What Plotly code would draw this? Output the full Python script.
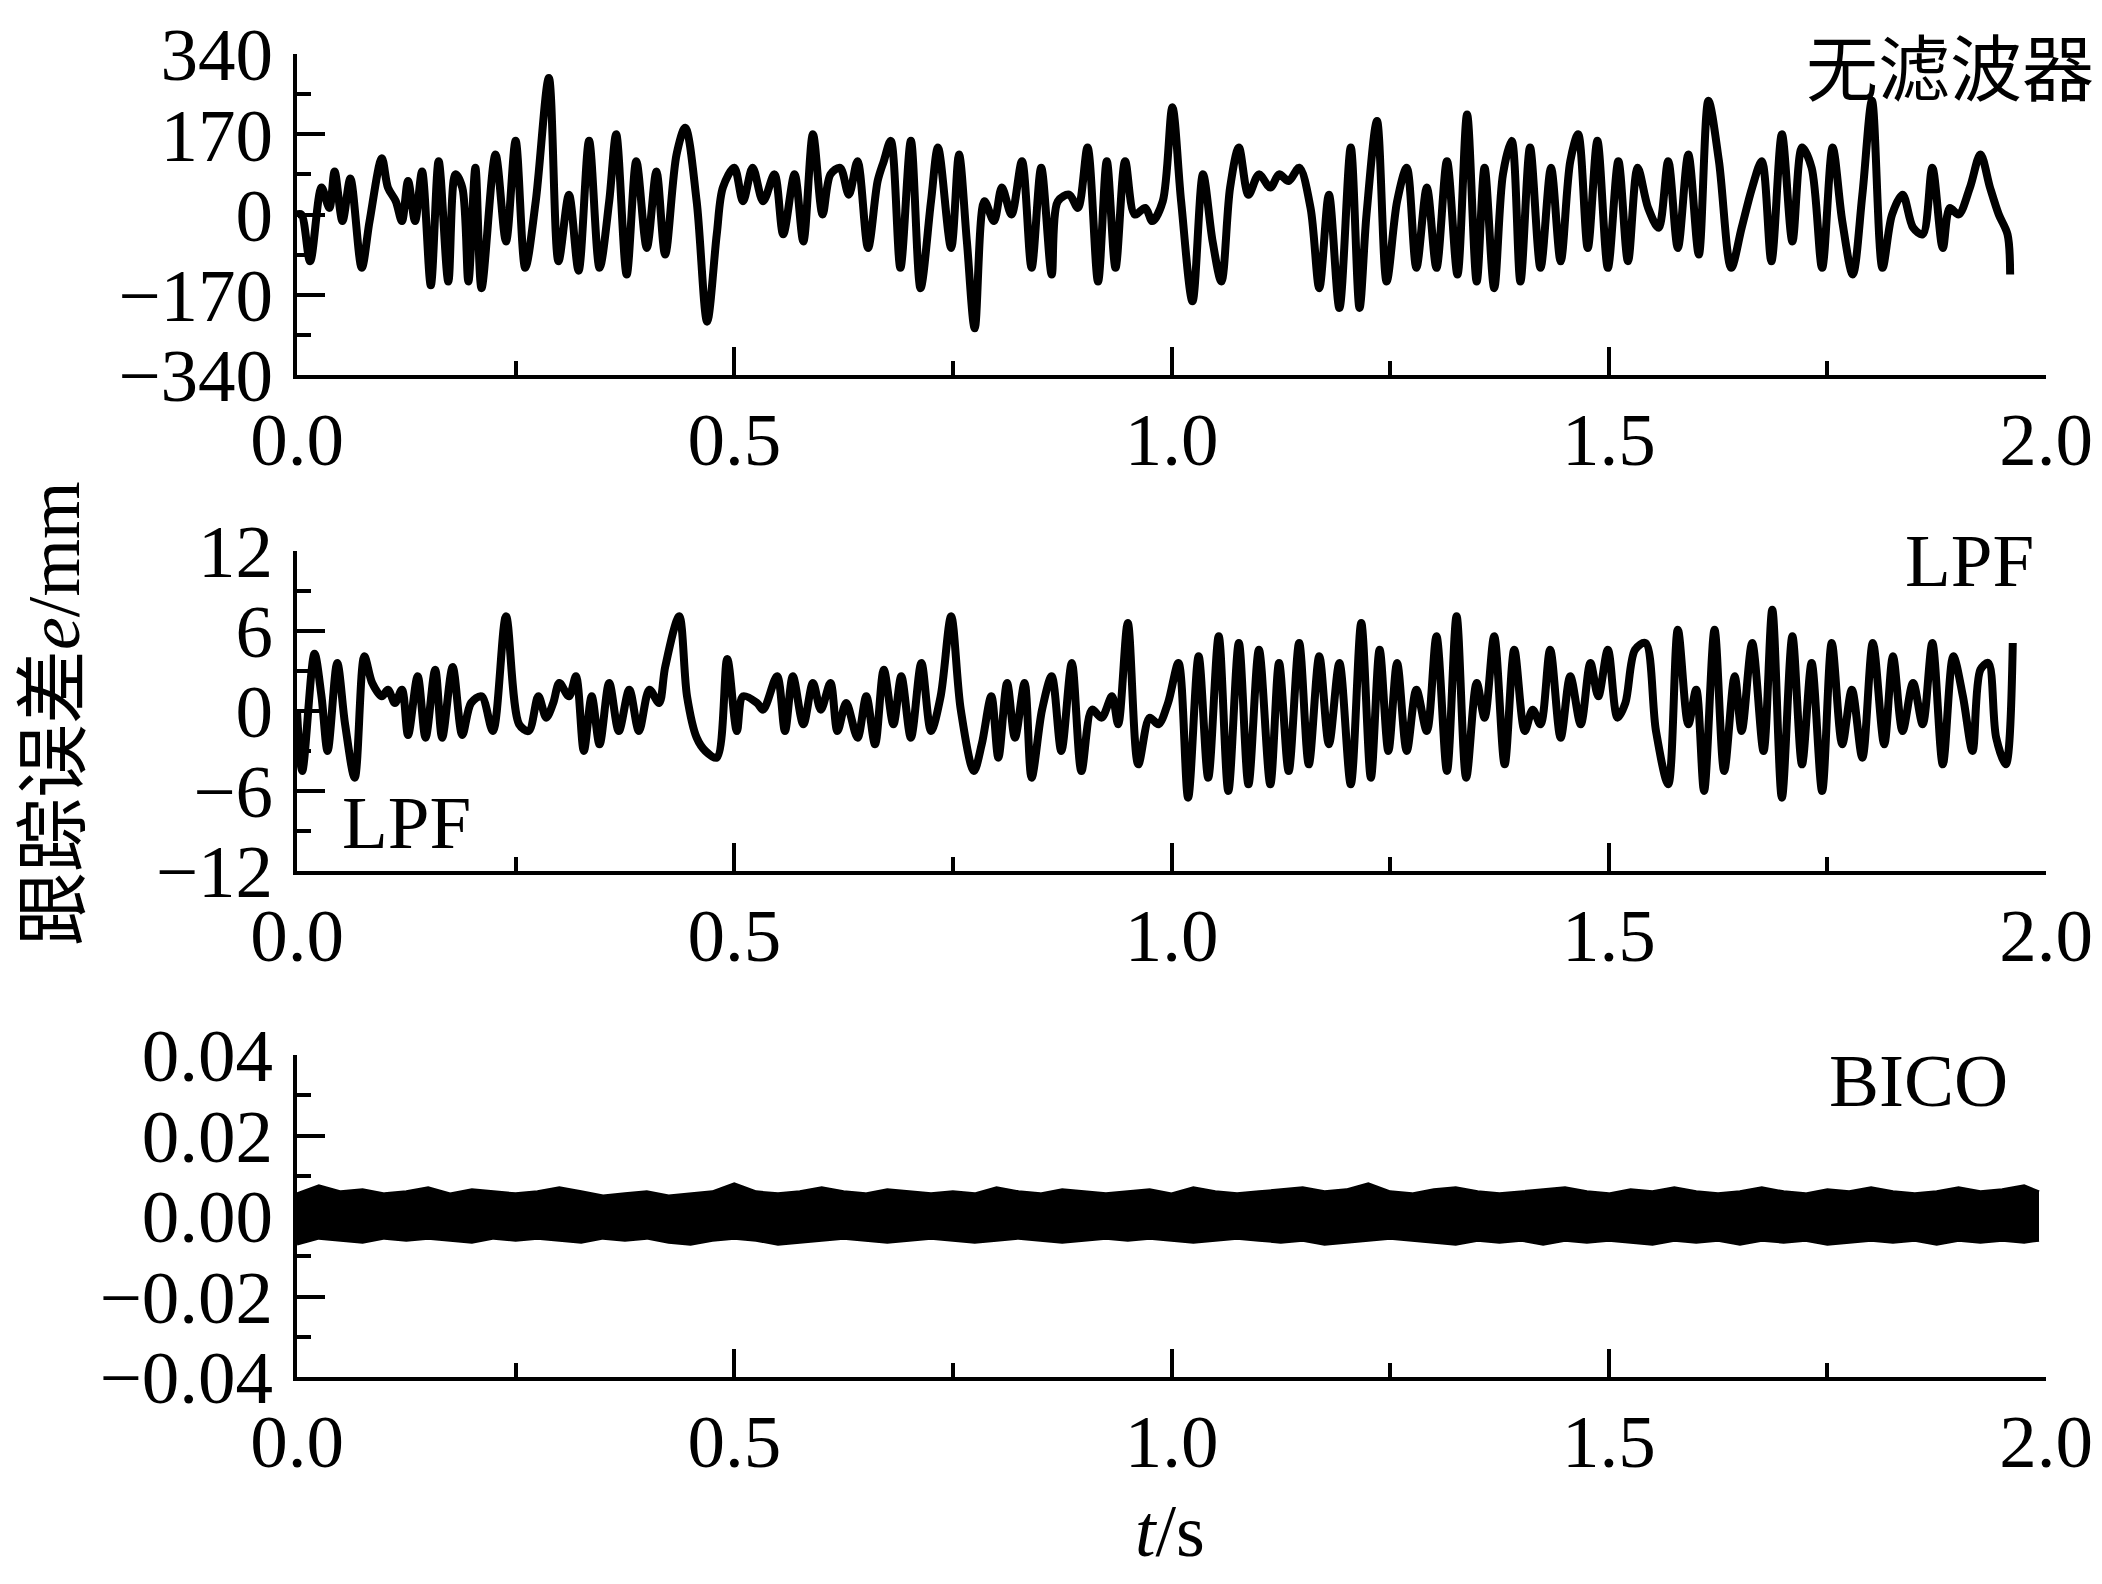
import plotly.graph_objects as go

# ---------------- data ----------------
# top panel: no filter, (t [s], e [mm]) at local extrema
top_pts = [(0.000,0),(0.005,0),(0.015,-99),(0.028,57),(0.037,14),(0.043,91),(0.052,-14),(0.061,76),(0.074,-113),(0.083,-14),
(0.097,119),(0.104,57),(0.113,28),(0.120,-14),(0.127,71),(0.135,-14),(0.143,91),(0.153,-150),(0.162,113),(0.173,-142),
(0.181,85),(0.189,57),(0.196,-142),(0.204,99),(0.211,-156),(0.227,127),(0.239,-57),(0.250,156),(0.261,-113),(0.273,28),
(0.288,289),(0.299,-99),(0.311,42),(0.322,-119),(0.334,156),(0.346,-113),(0.357,28),(0.365,170),(0.377,-127),(0.388,113),
(0.400,-71),(0.411,91),(0.421,-85),(0.434,127),(0.444,184),(0.457,28),(0.469,-227),(0.480,-42),(0.487,57),(0.500,99),
(0.510,28),(0.521,99),(0.533,28),(0.546,85),(0.556,-42),(0.569,85),(0.579,-57),(0.590,170),(0.601,0),(0.610,85),
(0.621,99),(0.631,42),(0.641,113),(0.653,-71),(0.664,71),(0.671,113),(0.679,156),(0.690,-113),(0.702,156),(0.713,-156),
(0.725,28),(0.733,142),(0.748,-71),(0.757,127),(0.766,-57),(0.775,-241),(0.786,28),(0.797,-14),(0.806,57),(0.817,0),
(0.829,113),(0.840,-113),(0.851,99),(0.863,-127),(0.870,28),(0.883,42),(0.893,14),(0.904,142),(0.916,-142),(0.926,113),
(0.936,-113),(0.947,113),(0.958,0),(0.970,14),(0.978,-14),(0.990,28),(1.001,227),(1.011,28),(1.024,-184),(1.036,85),
(1.047,-57),(1.057,-142),(1.067,57),(1.077,142),(1.088,42),(1.100,85),(1.113,57),(1.123,85),(1.134,71),(1.146,99),
(1.159,14),(1.169,-156),(1.180,42),(1.192,-198),(1.205,142),(1.215,-198),(1.223,0),(1.235,198),(1.246,-142),(1.258,28),
(1.269,99),(1.280,-113),(1.292,57),(1.303,-113),(1.315,113),(1.327,-127),(1.338,212),(1.349,-142),(1.358,99),(1.369,-156),
(1.379,85),(1.389,156),(1.399,-142),(1.410,142),(1.422,-113),(1.434,99),(1.445,-99),(1.456,113),(1.465,170),(1.476,-71),
(1.487,156),(1.499,-113),(1.511,113),(1.522,-99),(1.533,99),(1.545,14),(1.557,-28),(1.568,113),(1.579,-71),(1.591,127),
(1.603,-85),(1.614,241),(1.626,113),(1.640,-113),(1.652,-28),(1.664,57),(1.675,113),(1.686,-99),(1.698,170),(1.710,-57),
(1.721,142),(1.732,99),(1.744,-113),(1.756,142),(1.767,-14),(1.779,-127),(1.790,42),(1.801,241),(1.813,-113),(1.824,0),
(1.836,42),(1.848,-28),(1.859,-42),(1.870,99),(1.882,-71),(1.890,14),(1.900,0),(1.913,57),(1.925,127),(1.936,57),
(1.946,0),(1.956,-42),(1.959,-127)]

# middle panel: LPF
lpf_pts = [(0.000,0.0),(0.006,-4.5),(0.020,4.3),(0.028,1.1),(0.035,-3.0),(0.046,3.6),(0.055,-1.0),(0.066,-5.0),(0.077,4.1),(0.086,2.1),
(0.097,1.1),(0.104,1.6),(0.112,0.6),(0.120,1.6),(0.127,-1.8),(0.138,2.6),(0.147,-2.0),(0.158,3.1),(0.166,-2.0),(0.178,3.3),
(0.189,-1.8),(0.199,0.6),(0.211,1.1),(0.224,-1.5),(0.239,7.1),(0.254,-1.0),(0.265,-1.5),(0.276,1.1),(0.285,-0.5),(0.293,0.6),
(0.300,2.1),(0.311,1.1),(0.319,2.6),(0.328,-3.0),(0.337,1.1),(0.346,-2.5),(0.357,2.1),(0.368,-1.5),(0.380,1.6),(0.391,-1.5),
(0.403,1.6),(0.414,0.6),(0.421,3.3),(0.437,7.1),(0.446,1.1),(0.457,-2.0),(0.467,-3.0),(0.480,-3.5),(0.492,3.9),(0.503,-1.5),
(0.510,1.1),(0.526,0.6),(0.533,0.1),(0.549,2.6),(0.558,-1.5),(0.567,2.6),(0.579,-1.0),(0.590,2.1),(0.599,0.1),(0.610,2.1),
(0.618,-1.5),(0.628,0.6),(0.641,-2.0),(0.651,1.1),(0.661,-2.5),(0.671,3.1),(0.682,-1.0),(0.691,2.6),(0.702,-2.0),(0.714,3.6),
(0.725,-1.5),(0.736,1.1),(0.748,7.1),(0.759,0.1),(0.774,-4.5),(0.783,-2.5),(0.794,1.1),(0.802,-3.5),(0.812,2.1),(0.821,-2.0),
(0.832,2.1),(0.840,-5.0),(0.852,0.1),(0.863,2.6),(0.874,-3.0),(0.886,3.6),(0.897,-4.5),(0.909,0.1),(0.920,-0.5),(0.932,1.1),
(0.939,-1.0),(0.950,6.6),(0.962,-4.0),(0.975,-0.5),(0.985,-1.0),(0.996,0.6),(1.008,3.6),(1.019,-6.5),(1.031,4.1),(1.042,-5.0),
(1.054,5.6),(1.065,-6.0),(1.077,5.1),(1.088,-5.5),(1.100,4.6),(1.113,-5.5),(1.123,3.6),(1.134,-4.5),(1.146,5.1),(1.157,-4.0),
(1.169,4.1),(1.180,-2.5),(1.192,3.6),(1.205,-5.5),(1.217,6.6),(1.228,-5.0),(1.238,4.6),(1.248,-3.0),(1.258,3.6),(1.269,-3.0),
(1.280,1.6),(1.292,-1.5),(1.303,5.6),(1.315,-4.5),(1.326,7.1),(1.337,-5.0),(1.349,2.1),(1.358,-0.5),(1.369,5.6),(1.381,-4.0),
(1.392,4.6),(1.404,-1.5),(1.413,0.1),(1.422,-1.0),(1.433,4.6),(1.445,-2.0),(1.456,2.6),(1.468,-1.0),(1.479,3.6),(1.488,1.1),
(1.499,4.6),(1.510,-0.5),(1.519,0.6),(1.530,4.6),(1.542,5.1),(1.554,-1.5),(1.568,-5.5),(1.579,6.1),(1.591,-1.0),(1.600,1.6),
(1.609,-6.0),(1.621,6.1),(1.632,-4.5),(1.644,2.6),(1.652,-1.5),(1.664,5.1),(1.677,-3.0),(1.687,7.6),(1.698,-6.5),(1.710,5.6),
(1.721,-4.0),(1.732,3.6),(1.744,-6.0),(1.755,5.1),(1.767,-2.5),(1.778,1.6),(1.790,-3.5),(1.802,5.1),(1.815,-2.5),(1.825,4.1),
(1.836,-1.5),(1.848,2.1),(1.859,-1.0),(1.870,5.1),(1.882,-4.0),(1.894,4.1),(1.905,1.1),(1.916,-3.0),(1.925,3.1),(1.934,3.6),
(1.943,-2.0),(1.954,-4.0),(1.962,5.1)]

# bottom panel: BICO, upper / lower envelope of the dense residual band
bico_t = [0.000,0.025,0.050,0.075,0.100,0.125,0.150,0.175,0.200,0.225,0.250,0.275,0.300,0.325,0.350,0.375,0.400,0.425,0.450,0.475,
0.500,0.525,0.550,0.575,0.600,0.625,0.650,0.675,0.700,0.725,0.750,0.775,0.800,0.825,0.850,0.875,0.900,0.925,0.950,0.975,
1.000,1.025,1.050,1.075,1.100,1.125,1.150,1.175,1.200,1.225,1.250,1.275,1.300,1.325,1.350,1.375,1.400,1.425,1.450,1.475,
1.500,1.525,1.550,1.575,1.600,1.625,1.650,1.675,1.700,1.725,1.750,1.775,1.800,1.825,1.850,1.875,1.900,1.925,1.950,1.975,1.992]
bico_up = [0.0055,0.0075,0.0060,0.0065,0.0055,0.0060,0.0070,0.0055,0.0065,0.0060,0.0055,0.0060,0.0070,0.0060,0.0050,0.0055,0.0060,0.0050,0.0055,0.0060,
0.0080,0.0060,0.0055,0.0060,0.0070,0.0060,0.0055,0.0065,0.0060,0.0055,0.0060,0.0055,0.0070,0.0060,0.0055,0.0065,0.0060,0.0055,0.0060,0.0065,
0.0055,0.0070,0.0060,0.0055,0.0060,0.0065,0.0070,0.0060,0.0065,0.0080,0.0060,0.0055,0.0065,0.0070,0.0060,0.0055,0.0060,0.0065,0.0070,0.0060,
0.0055,0.0065,0.0060,0.0070,0.0060,0.0055,0.0060,0.0070,0.0060,0.0055,0.0065,0.0060,0.0070,0.0060,0.0055,0.0060,0.0070,0.0060,0.0065,0.0075,0.0060]
bico_lo = [-0.0070,-0.0055,-0.0060,-0.0065,-0.0055,-0.0060,-0.0055,-0.0060,-0.0065,-0.0055,-0.0060,-0.0055,-0.0060,-0.0065,-0.0055,-0.0060,-0.0055,-0.0065,-0.0070,-0.0060,
-0.0055,-0.0060,-0.0070,-0.0065,-0.0060,-0.0055,-0.0060,-0.0065,-0.0060,-0.0055,-0.0060,-0.0065,-0.0060,-0.0055,-0.0060,-0.0065,-0.0060,-0.0055,-0.0060,-0.0055,
-0.0060,-0.0065,-0.0060,-0.0055,-0.0060,-0.0065,-0.0060,-0.0070,-0.0065,-0.0060,-0.0055,-0.0060,-0.0065,-0.0070,-0.0060,-0.0065,-0.0060,-0.0070,-0.0060,-0.0065,
-0.0060,-0.0065,-0.0070,-0.0060,-0.0065,-0.0060,-0.0070,-0.0060,-0.0065,-0.0060,-0.0070,-0.0065,-0.0060,-0.0065,-0.0060,-0.0070,-0.0060,-0.0065,-0.0060,-0.0065,-0.0060]

x_tickvals = [0.0, 0.5, 1.0, 1.5, 2.0]
x_ticktext = ["0.0", "0.5", "1.0", "1.5", "2.0"]
y1_tickvals = [-340, -170, 0, 170, 340]
y1_ticktext = ["\u2212340", "\u2212170", "0", "170", "340"]
y2_tickvals = [-12, -6, 0, 6, 12]
y2_ticktext = ["\u221212", "\u22126", "0", "6", "12"]
y3_tickvals = [-0.04, -0.02, 0.0, 0.02, 0.04]
y3_ticktext = ["\u22120.04", "\u22120.02", "0.00", "0.02", "0.04"]

# ---------------- figure ----------------
# the page body has an 8 px margin, so the figure is placed 8 px in from the window corner
OFF = 8
W, H = 2102 - 2 * OFF, 1584 - 2 * OFF
SERIF = "Liberation Serif, Times New Roman, serif"
MIXED = "Liberation Serif, Noto Sans CJK SC, serif"
LW = 8

def px(x):  # window x -> paper fraction
    return (x - OFF) / W

def py(y):  # window y -> paper fraction
    return 1 - (y - OFF) / H

fig = go.Figure()
fig.add_trace(go.Scatter(x=[p[0] for p in top_pts], y=[p[1] for p in top_pts], mode="lines",
                         line=dict(color="black", width=LW, shape="spline", smoothing=0.9),
                         xaxis="x", yaxis="y", hoverinfo="skip"))
fig.add_trace(go.Scatter(x=[p[0] for p in lpf_pts], y=[p[1] for p in lpf_pts], mode="lines",
                         line=dict(color="black", width=LW, shape="spline", smoothing=0.9),
                         xaxis="x2", yaxis="y2", hoverinfo="skip"))
fig.add_trace(go.Scatter(x=bico_t, y=bico_up, mode="lines", line=dict(color="black", width=3),
                         xaxis="x3", yaxis="y3", hoverinfo="skip"))
fig.add_trace(go.Scatter(x=bico_t, y=bico_lo, mode="lines", line=dict(color="black", width=3),
                         fill="tonexty", fillcolor="black",
                         xaxis="x3", yaxis="y3", hoverinfo="skip"))

xdom = [px(297), px(2046)]
ydoms = [[py(375), py(54)], [py(871), py(551)], [py(1377), py(1055)]]

def xaxis(anchor):
    return dict(domain=xdom, anchor=anchor, range=[0, 2.0], tickvals=x_tickvals, ticktext=x_ticktext,
                ticks="inside", ticklen=28, tickwidth=4, tickcolor="black", automargin=False,
                showline=True, linewidth=4, linecolor="black", showgrid=False, zeroline=False,
                tickfont=dict(family=SERIF, size=75, color="black"), ticklabelstandoff=-4,
                minor=dict(tickvals=[0.25, 0.75, 1.25, 1.75], ticks="inside", ticklen=14,
                           tickwidth=4, tickcolor="black", showgrid=False))

def yaxis(anchor, dom, rng, tv, tt, minor_tv):
    return dict(domain=dom, anchor=anchor, range=rng, tickvals=tv, ticktext=tt,
                ticks="inside", ticklen=28, tickwidth=4, tickcolor="black", automargin=False,
                showline=True, linewidth=4, linecolor="black", showgrid=False, zeroline=False,
                tickfont=dict(family=SERIF, size=75, color="black"), ticklabelstandoff=5,
                minor=dict(tickvals=minor_tv, ticks="inside", ticklen=14,
                           tickwidth=4, tickcolor="black", showgrid=False))

fig.update_layout(
    width=W, height=H, margin=dict(l=0, r=0, t=0, b=0, autoexpand=False),
    paper_bgcolor="white", plot_bgcolor="white", showlegend=False,
    xaxis=xaxis("y"),
    xaxis2=xaxis("y2"),
    xaxis3=xaxis("y3"),
    yaxis=yaxis("x", ydoms[0], [-340, 340], y1_tickvals, y1_ticktext, [-255, -85, 85, 255]),
    yaxis2=yaxis("x2", ydoms[1], [-12, 12], y2_tickvals, y2_ticktext, [-9, -3, 3, 9]),
    yaxis3=yaxis("x3", ydoms[2], [-0.04, 0.04], y3_tickvals, y3_ticktext, [-0.03, -0.01, 0.01, 0.03]),
)

ann = [
    dict(text="无滤波器", x=px(2096), y=py(63), xanchor="right", yanchor="middle",
         font=dict(family="Noto Sans CJK SC", size=72, color="black")),
    dict(text="LPF", x=px(2036), y=py(560), xanchor="right", yanchor="middle",
         font=dict(family=SERIF, size=75, color="black")),
    dict(text="LPF", x=px(340), y=py(823), xanchor="left", yanchor="middle",
         font=dict(family=SERIF, size=75, color="black")),
    dict(text="BICO", x=px(2010), y=py(1080), xanchor="right", yanchor="middle",
         font=dict(family=SERIF, size=75, color="black")),
    dict(text="跟踪误差<i>e</i>/mm", x=px(54), y=py(714), xanchor="center", yanchor="middle",
         textangle=-90, font=dict(family=MIXED, size=74, color="black")),
    dict(text="<i>t</i>/s", x=px(1170), y=py(1531), xanchor="center", yanchor="middle",
         font=dict(family=SERIF, size=74, color="black")),
]
for a in ann:
    a.update(xref="paper", yref="paper", showarrow=False)
fig.update_layout(annotations=ann)

fig.write_html("out.html")
